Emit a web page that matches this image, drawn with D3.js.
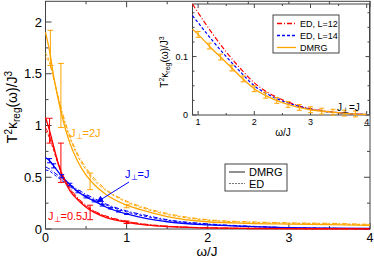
<!DOCTYPE html>
<html>
<head>
<meta charset="utf-8">
<script src="https://cdn.jsdelivr.net/npm/d3@7"></script>
<style>
body { margin: 0; background: #fff; }
svg { font-family: "Liberation Sans", Arial, sans-serif; display: block; }
</style>
</head>
<body>
<svg id="chart" width="374" height="259"></svg>
<script>
// omega grid shared by all main-panel curves
var omega = [0, 0.05, 0.1, 0.15, 0.2, 0.3, 0.4, 0.5, 0.6, 0.75, 1, 1.25, 1.5, 2, 2.5, 3, 3.5, 4];

var dmrg2J  = [1.9, 1.72, 1.48, 1.28, 1.1, 0.83, 0.65, 0.52, 0.43, 0.33, 0.23, 0.17, 0.12, 0.07, 0.055, 0.048, 0.042, 0.035];
var ed14_2J = [1.70, 1.62, 1.46, 1.29, 1.13, 0.88, 0.70, 0.57, 0.47, 0.37, 0.26, 0.19, 0.14, 0.085, 0.065, 0.055, 0.05, 0.04];
var ed12_2J = [1.66, 1.6, 1.45, 1.3, 1.15, 0.9, 0.72, 0.59, 0.49, 0.38, 0.27, 0.2, 0.15, 0.09, 0.07, 0.06, 0.055, 0.045];

var dmrg1J  = [0.69, 0.66, 0.61, 0.56, 0.51, 0.43, 0.36, 0.31, 0.27, 0.21, 0.145, 0.10, 0.07, 0.04, 0.025, 0.012, 0.008, 0.005];
var ed14_1J = [0.57, 0.56, 0.53, 0.50, 0.47, 0.41, 0.36, 0.32, 0.28, 0.23, 0.165, 0.12, 0.085, 0.045, 0.025, 0.012, 0.006, 0.003];
var ed12_1J = [0.6, 0.58, 0.55, 0.52, 0.49, 0.43, 0.38, 0.335, 0.295, 0.24, 0.175, 0.13, 0.09, 0.05, 0.028, 0.014, 0.007, 0.003];

var dmrgHalf  = [1.08, 0.95, 0.8, 0.65, 0.53, 0.37, 0.28, 0.21, 0.16, 0.11, 0.065, 0.037, 0.022, 0.01, 0.005, 0.003, 0.002, 0.001];
var ed14_half = [0.95, 0.88, 0.76, 0.64, 0.54, 0.39, 0.29, 0.22, 0.17, 0.12, 0.072, 0.042, 0.026, 0.011, 0.005, 0.003, 0.002, 0.001];
var ed12_half = [0.98, 0.9, 0.78, 0.66, 0.55, 0.40, 0.30, 0.23, 0.175, 0.125, 0.075, 0.045, 0.028, 0.012, 0.006, 0.003, 0.002, 0.001];

// error bars of the DMRG data
var err2J_w = [0.06, 0.19, 0.55, 1.0];
var err2J_v = [1.75, 1.29, 0.46, 0.22];
var err2J_e = [0.17, 0.31, 0.08, 0.015];
var errHalf_w = [0.05, 0.19, 0.55, 1.0];
var errHalf_v = [0.95, 0.64, 0.16, 0.065];
var errHalf_e = [0.12, 0.19, 0.07, 0.012];
var err1J_w = [0.05, 0.1, 0.2, 0.3, 0.4, 0.5, 0.6, 0.7, 0.8, 0.9, 1.0];
var err1J_v = [0.66, 0.61, 0.51, 0.43, 0.36, 0.31, 0.27, 0.23, 0.2, 0.17, 0.145];
var err1J_e = [0.02, 0.02, 0.015, 0.012, 0.01, 0.01, 0.008, 0.008, 0.006, 0.006, 0.005];

// inset: J_perp = J, high-frequency tail
var insetW     = [0.9, 1.0, 1.25, 1.5, 1.75, 2.0, 2.25, 2.5, 2.75, 3.0, 3.25, 3.5, 3.75, 4.0];
var insetEd12  = [0.19, 0.175, 0.14, 0.108, 0.08, 0.055, 0.038, 0.026, 0.017, 0.011, 0.007, 0.004, 0.002, 0.001];
var insetEd14  = [0.17, 0.158, 0.128, 0.1, 0.074, 0.05, 0.035, 0.024, 0.016, 0.010, 0.006, 0.004, 0.002, 0.001];
var insetDmrg  = [0.147, 0.138, 0.113, 0.09, 0.066, 0.045, 0.031, 0.021, 0.014, 0.009, 0.006, 0.004, 0.002, 0.001];
var insetErrW  = [1.0, 1.2, 1.4, 1.6, 1.8, 2.0, 2.2, 2.4, 2.6, 2.8, 3.0, 3.2, 3.4, 3.6, 3.8];

var xTicks = [0, 1, 2, 3, 4];
var yTicks = [0, 0.5, 1, 1.5, 2];
var insetXTicks = [1, 2, 3, 4];
var insetYTicks = [0, 0.1];

var RED = "#ff0000", BLUE = "#0000ff", ORANGE = "#ffa500", AX = "#444";

var svg = d3.select("#chart");

var x = d3.scaleLinear().domain([0, 4]).range([45.5, 370]);
var y = d3.scaleLinear().domain([0, 2.2]).range([229, 1.3]);

function drawFrame(g, xs, ys, major, minor, xt, yt, xMinor, yMinor) {
    var x0 = xs.range()[0], x1 = xs.range()[1], y0 = ys.range()[0], y1 = ys.range()[1];
    g.append("rect").attr("x", x0).attr("y", y1).attr("width", x1 - x0).attr("height", y0 - y1)
        .attr("fill", "none").attr("stroke", AX).attr("stroke-width", 1);
    xMinor.forEach(function (t) {
        var len = xt.indexOf(t) >= 0 ? major : minor;
        g.append("line").attr("x1", xs(t)).attr("x2", xs(t)).attr("y1", y0).attr("y2", y0 - len).attr("stroke", AX);
        g.append("line").attr("x1", xs(t)).attr("x2", xs(t)).attr("y1", y1).attr("y2", y1 + len).attr("stroke", AX);
    });
    yMinor.forEach(function (t) {
        var len = yt.indexOf(t) >= 0 ? major : minor;
        g.append("line").attr("y1", ys(t)).attr("y2", ys(t)).attr("x1", x0).attr("x2", x0 + len).attr("stroke", AX);
        g.append("line").attr("y1", ys(t)).attr("y2", ys(t)).attr("x1", x1).attr("x2", x1 - len).attr("stroke", AX);
    });
}

function drawLine(g, xs, ys, ws, vs, color, dash, width) {
    var line = d3.line()
        .x(function (d) { return xs(d[0]); })
        .y(function (d) { return ys(d[1]); })
        .curve(d3.curveMonotoneX);
    g.append("path").datum(ws.map(function (w, i) { return [w, vs[i]]; }))
        .attr("d", line).attr("fill", "none").attr("stroke", color)
        .attr("stroke-width", width || 1.3).attr("stroke-dasharray", dash || null);
}

function drawErr(g, xs, ys, ws, vs, es, color, cap) {
    ws.forEach(function (w, i) {
        var cx = xs(w), top = ys(vs[i] + es[i]), bot = ys(vs[i] - es[i]);
        g.append("line").attr("x1", cx).attr("x2", cx).attr("y1", top).attr("y2", bot).attr("stroke", color);
        g.append("line").attr("x1", cx - cap).attr("x2", cx + cap).attr("y1", top).attr("y2", top).attr("stroke", color);
        g.append("line").attr("x1", cx - cap).attr("x2", cx + cap).attr("y1", bot).attr("y2", bot).attr("stroke", color);
    });
}

// ---------- main panel ----------
var main = svg.append("g");
drawFrame(main, x, y, 6, 3, xTicks, yTicks,
    d3.range(0, 4.01, 0.5), d3.range(0, 2.21, 0.25));

drawLine(main, x, y, omega, ed12_2J, ORANGE, "5,2,1,2", 1);
drawLine(main, x, y, omega, ed14_2J, ORANGE, "3,2", 1);
drawLine(main, x, y, omega, dmrg2J, ORANGE);
drawLine(main, x, y, omega, ed12_1J, BLUE, "5,2,1,2", 1);
drawLine(main, x, y, omega, ed14_1J, BLUE, "3,2", 1);
drawLine(main, x, y, omega, dmrg1J, BLUE);
drawLine(main, x, y, omega, ed12_half, RED, "5,2,1,2", 1);
drawLine(main, x, y, omega, ed14_half, RED, "3,2", 1);
drawLine(main, x, y, omega, dmrgHalf, RED);

drawErr(main, x, y, err2J_w, err2J_v, err2J_e, ORANGE, 3);
drawErr(main, x, y, errHalf_w, errHalf_v, errHalf_e, RED, 3);
drawErr(main, x, y, err1J_w, err1J_v, err1J_e, BLUE, 2.5);

main.selectAll(".xl").data(xTicks).enter().append("text")
    .attr("x", function (d) { return x(d); }).attr("y", 242)
    .attr("text-anchor", "middle").attr("font-size", 12.5).text(function (d) { return d; });
main.selectAll(".yl").data(yTicks).enter().append("text")
    .attr("x", 42).attr("y", function (d) { return y(d) + 4.5; })
    .attr("text-anchor", "end").attr("font-size", 13).text(function (d) { return d; });

main.append("text").attr("x", 207).attr("y", 256).attr("text-anchor", "middle")
    .attr("font-size", 13.5).text("ω/J");

var yl = main.append("text").attr("transform", "translate(17,107) rotate(-90)")
    .attr("text-anchor", "middle").attr("font-size", 14);
yl.append("tspan").text("T");
yl.append("tspan").attr("dy", -5).attr("font-size", 10).text("2");
yl.append("tspan").attr("dy", 5).text("κ");
yl.append("tspan").attr("dy", 3).attr("font-size", 10).text("reg");
yl.append("tspan").attr("dy", -3).text("(ω)/J");
yl.append("tspan").attr("dy", -5).attr("font-size", 10).text("3");

function jLabel(g, px, py, color, rest, size) {
    var t = g.append("text").attr("x", px).attr("y", py).attr("fill", color).attr("font-size", size);
    t.append("tspan").text("J");
    t.append("tspan").attr("dy", 2).attr("font-size", size * 0.75).text("⊥");
    t.append("tspan").attr("dy", -2).text(rest);
}
jLabel(main, 70, 137, ORANGE, "=2J", 11);
jLabel(main, 125, 178, BLUE, "=J", 11);
jLabel(main, 48, 220, RED, "=0.5J", 11);

// arrow J=J
svg.append("defs").append("marker").attr("id", "ah")
    .attr("viewBox", "0 0 10 10").attr("refX", 9).attr("refY", 5)
    .attr("markerWidth", 7).attr("markerHeight", 7).attr("orient", "auto")
    .append("path").attr("d", "M0,0 L10,5 L0,10 Z").attr("fill", BLUE);
main.append("line").attr("x1", 129).attr("y1", 182).attr("x2", 97).attr("y2", 202)
    .attr("stroke", BLUE).attr("marker-end", "url(#ah)");

// main legend
var lg = main.append("g");
lg.append("rect").attr("x", 225).attr("y", 164).attr("width", 62).attr("height", 27)
    .attr("fill", "#fff").attr("stroke", AX);
lg.append("line").attr("x1", 229).attr("x2", 245).attr("y1", 172).attr("y2", 172).attr("stroke", "#555").attr("stroke-width", 1.3);
lg.append("line").attr("x1", 229).attr("x2", 245).attr("y1", 183.5).attr("y2", 183.5).attr("stroke", "#777").attr("stroke-dasharray", "2,1");
lg.append("text").attr("x", 249).attr("y", 176).attr("font-size", 11).text("DMRG");
lg.append("text").attr("x", 249).attr("y", 188).attr("font-size", 11).text("ED");

// ---------- inset ----------
var ix = d3.scaleLinear().domain([0.9, 4.05]).range([192.5, 369.5]);
var iy = d3.scaleLinear().domain([0, 0.19]).range([115, 4]);
var inset = svg.append("g");
inset.append("rect").attr("x", 193).attr("y", 4).attr("width", 176).attr("height", 111).attr("fill", "#fff");
drawFrame(inset, ix, iy, 4, 2, insetXTicks, insetYTicks,
    d3.range(1, 4.01, 0.5), d3.range(0, 0.1901, 0.025).map(function (d) { return Math.round(d * 1000) / 1000; }));

drawLine(inset, ix, iy, insetW, insetEd12, RED, "5,2,1,2", 1.2);
drawLine(inset, ix, iy, insetW, insetEd14, BLUE, "3,2", 1.2);
drawLine(inset, ix, iy, insetW, insetDmrg, ORANGE, null, 1.3);
var insetErrV = insetErrW.map(function (w) {
    var i = d3.bisectLeft(insetW, w);
    return insetW[i] === w ? insetDmrg[i] : d3.interpolateNumber(insetDmrg[i - 1], insetDmrg[i])((w - insetW[i - 1]) / (insetW[i] - insetW[i - 1]));
});
drawErr(inset, ix, iy, insetErrW, insetErrV, insetErrW.map(function () { return 0.005; }), ORANGE, 2.5);

inset.selectAll(".ixl").data(insetXTicks).enter().append("text")
    .attr("x", function (d) { return ix(d); }).attr("y", 125)
    .attr("text-anchor", "middle").attr("font-size", 9).text(function (d) { return d; });
inset.selectAll(".iyl").data(insetYTicks).enter().append("text")
    .attr("x", 188).attr("y", function (d) { return iy(d) + 3; })
    .attr("text-anchor", "end").attr("font-size", 9).text(function (d) { return d; });
inset.append("text").attr("x", 283).attr("y", 136).attr("text-anchor", "middle")
    .attr("font-size", 10).text("ω/J");

var iyl = inset.append("text").attr("transform", "translate(168,62) rotate(-90)")
    .attr("text-anchor", "middle").attr("font-size", 10);
iyl.append("tspan").text("T");
iyl.append("tspan").attr("dy", -4).attr("font-size", 7).text("2");
iyl.append("tspan").attr("dy", 4).text("κ");
iyl.append("tspan").attr("dy", 2).attr("font-size", 7).text("reg");
iyl.append("tspan").attr("dy", -2).text("(ω)/J");
iyl.append("tspan").attr("dy", -4).attr("font-size", 7).text("3");

jLabel(inset, 337, 111, "#000", "=J", 10);

// inset legend
var il = inset.append("g");
il.append("rect").attr("x", 273).attr("y", 15).attr("width", 66).attr("height", 38)
    .attr("fill", "#fff").attr("stroke", AX);
var iLeg = [["ED, L=12", RED, "5,2,1,2"], ["ED, L=14", BLUE, "3,2"], ["DMRG", ORANGE, null]];
iLeg.forEach(function (d, i) {
    var ly = 23.5 + i * 12;
    il.append("line").attr("x1", 277).attr("x2", 296).attr("y1", ly).attr("y2", ly)
        .attr("stroke", d[1]).attr("stroke-width", 1.3).attr("stroke-dasharray", d[2]);
    il.append("text").attr("x", 300).attr("y", ly + 3.5).attr("font-size", 9).text(d[0]);
});
</script>
</body>
</html>
